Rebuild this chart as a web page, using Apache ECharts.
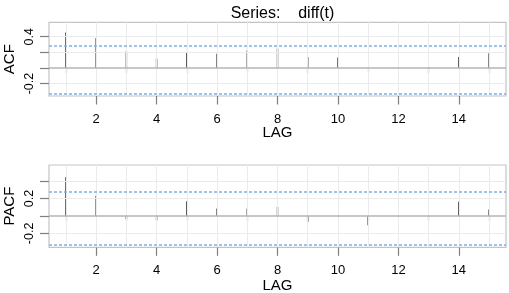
<!DOCTYPE html>
<html>
<head>
<meta charset="utf-8">
<script src="https://cdn.jsdelivr.net/npm/echarts@6/dist/echarts.min.js"></script>
<style>html,body{margin:0;padding:0;background:#fff;}#c{width:509px;height:293px;}</style>
</head>
<body>
<div id="c"></div>
<script>
var lags = [1,2,3,4,5,6,7,8,9,10,11,12,13,14,15];
var acfValues = [0.454,0.384,0.213,0.119,0.200,0.183,0.226,0.247,0.139,0.135,0.0,0.008,0.012,0.139,0.187];
var pacfValues = [0.443,0.231,-0.035,-0.050,0.170,0.085,0.085,0.104,-0.069,-0.003,-0.107,-0.005,-0.005,0.162,0.075];
var ciUpper = 0.278;
var ciLower = -0.325;
var yTicks = [-0.2,0,0.2,0.4];
var acfYLabels = [-0.2,0.4];
var pacfYLabels = [-0.2,0.2];
var xMinorTicks = [1,3,5,7,9,11,13,15];
var xMajorTicks = [2,4,6,8,10,12,14];
var titleText = 'Series:    diff(t)';

var FONT = '"Liberation Sans", Arial, Helvetica, sans-serif';
var X_MIN = 0.44, X_MAX = 15.56, Y_MIN = -0.36, Y_MAX = 0.585;
var grids = [
  {left:49, right:3, top:22.3, height:73.7},
  {left:49, right:3, top:165, height:82.3}
];
var names = ['ACF','PACF'];
var yLabelSets = [acfYLabels, pacfYLabels];
var valueSets = [acfValues, pacfValues];
var lagGaps = [29, 31];

var option = {
  animation:false,
  backgroundColor:'#fff',
  textStyle:{fontFamily:FONT},
  title:{text:titleText, left:277.5, textAlign:'center', top:1,
    textStyle:{fontFamily:FONT, fontSize:16, fontWeight:'normal', color:'#000'}},
  grid:[], xAxis:[], yAxis:[], series:[]
};

function renderStem(params, api){
  var x = api.value(0), y = api.value(1);
  var p0 = api.coord([x, 0]);
  var p1 = api.coord([x, y]);
  return {type:'line', shape:{x1:p0[0], y1:p0[1], x2:p1[0], y2:p1[1]},
    style:{stroke:'#505050', lineWidth:1.5}};
}

grids.forEach(function(g, i){
  option.grid.push({left:g.left, right:g.right, top:g.top, height:g.height, show:true,
    containLabel:false, outerBoundsMode:'none',
    borderColor:'#c4c4c4', borderWidth:1.2, backgroundColor:'#fff'});
  option.xAxis.push({type:'value', gridIndex:i, position:'bottom', min:X_MIN, max:X_MAX,
    axisLine:{show:false}, splitLine:{show:false},
    axisTick:{show:true, customValues:xMinorTicks, length:5, lineStyle:{color:'#7f7f7f', width:1.2}},
    axisLabel:{show:false}});
  option.xAxis.push({type:'value', gridIndex:i, position:'bottom', offset:0, min:X_MIN, max:X_MAX,
    axisLine:{show:false}, splitLine:{show:false},
    axisTick:{show:true, customValues:xMajorTicks, length:8.5, lineStyle:{color:'#7f7f7f', width:1.2}},
    axisLabel:{show:true, customValues:xMajorTicks, margin:17, fontSize:13, color:'#000', fontFamily:FONT},
    name:'LAG', nameLocation:'middle', nameGap:lagGaps[i], nameMoveOverlap:false,
    nameTextStyle:{fontSize:15, color:'#000', fontFamily:FONT}});
  option.yAxis.push({type:'value', gridIndex:i, position:'left', min:Y_MIN, max:Y_MAX,
    axisLine:{show:false}, splitLine:{show:false},
    axisTick:{show:true, customValues:yTicks, length:9, lineStyle:{color:'#7f7f7f', width:1.2}},
    axisLabel:{show:true, customValues:yLabelSets[i], rotate:90, margin:13, fontSize:12.5, color:'#000', fontFamily:FONT,
      formatter:function(v){return String(Math.round(v*10)/10);}},
    name:names[i], nameLocation:'middle', nameRotate:90, nameGap:32, nameMoveOverlap:false,
    nameTextStyle:{fontSize:15, color:'#000', fontFamily:FONT}});

  var gridLines = [];
  lags.forEach(function(l){ gridLines.push({xAxis:l}); });
  yTicks.forEach(function(t){ if (t !== 0) gridLines.push({yAxis:t}); });
  option.series.push({type:'line', xAxisIndex:i*2, yAxisIndex:i, data:[], z:1, silent:true,
    markLine:{silent:true, symbol:'none', label:{show:false}, animation:false,
      lineStyle:{color:'#ebebeb', width:1, type:'solid'}, data:gridLines}});
  option.series.push({type:'line', xAxisIndex:i*2, yAxisIndex:i, data:[], z:2, silent:true,
    markLine:{silent:true, symbol:'none', label:{show:false}, animation:false,
      lineStyle:{color:'#b4b4b4', width:1.5, type:'solid'}, data:[{yAxis:0}]}});
  option.series.push({type:'custom', xAxisIndex:i*2, yAxisIndex:i, z:3, silent:true,
    renderItem:renderStem, encode:{x:0, y:1},
    data:lags.map(function(l, k){ return [l, valueSets[i][k]]; })});
  option.series.push({type:'line', xAxisIndex:i*2, yAxisIndex:i, data:[], z:4, silent:true,
    markLine:{silent:true, symbol:'none', label:{show:false}, animation:false,
      lineStyle:{color:'#7fb1e6', width:1.5, type:[3,2]}, data:[{yAxis:ciUpper},{yAxis:ciLower}]}});
});

var chart = echarts.init(document.getElementById('c'), null, {renderer:'canvas'});
chart.setOption(option);
</script>
</body>
</html>
